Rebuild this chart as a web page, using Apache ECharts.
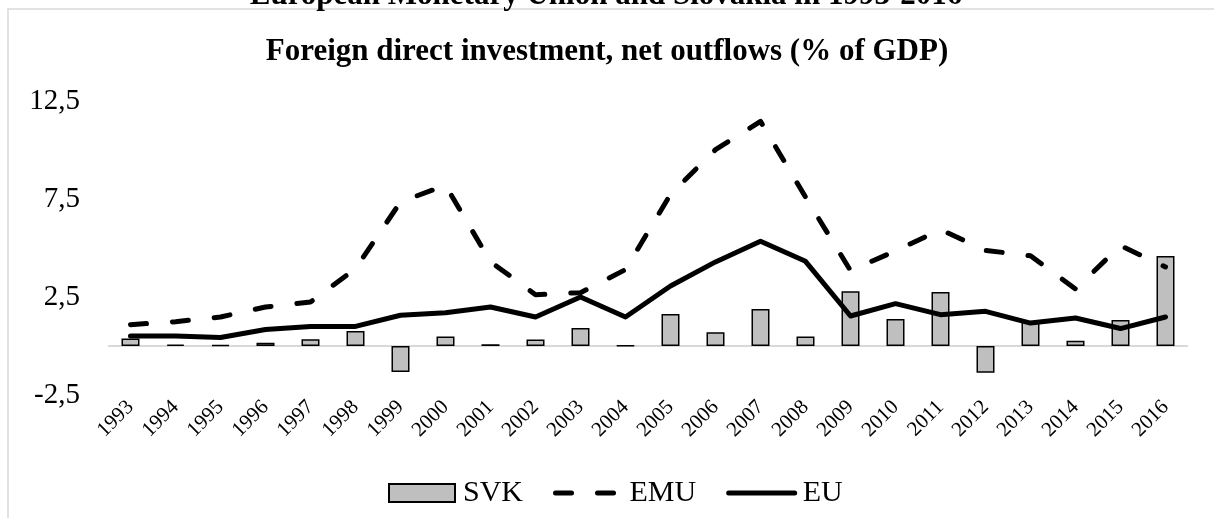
<!DOCTYPE html>
<html>
<head>
<meta charset="utf-8">
<script src="https://cdn.jsdelivr.net/npm/echarts@6/dist/echarts.min.js"></script>
<style>
  html, body { margin: 0; padding: 0; background: #fff; }
  #chart { width: 1214px; height: 518px; }
</style>
</head>
<body>
<div id="chart"></div>
<script>
// Foreign direct investment, net outflows (% of GDP), 1993-2016
const years = ['1993','1994','1995','1996','1997','1998','1999','2000','2001','2002','2003','2004',
               '2005','2006','2007','2008','2009','2010','2011','2012','2013','2014','2015','2016'];
const svk = [0.38, 0.07, 0.05, 0.17, 0.34, 0.77, -1.33, 0.49, 0.09, 0.33, 0.92, 0.02,
             1.63, 0.70, 1.89, 0.49, 2.79, 1.38, 2.76, -1.36, 1.28, 0.27, 1.33, 4.59];
const emu = [1.09, 1.24, 1.48, 1.99, 2.24, 3.95, 7.35, 8.20, 4.30, 2.62, 2.72, 3.90,
             7.74, 10.02, 11.46, 7.60, 3.85, 4.85, 5.94, 4.88, 4.60, 2.91, 5.12, 4.03];
const eu = [0.51, 0.51, 0.43, 0.84, 1.00, 1.00, 1.57, 1.70, 1.99, 1.48, 2.50, 1.48,
            3.06, 4.29, 5.34, 4.32, 1.53, 2.16, 1.60, 1.77, 1.17, 1.43, 0.89, 1.48];
const yMin = -2.5, yMax = 12.5, yStep = 5;

const serif = "'Liberation Serif', 'Times New Roman', serif";
const chart = echarts.init(document.getElementById('chart'), null, { renderer: 'canvas' });

chart.setOption({
  backgroundColor: '#ffffff',
  animation: false,
  title: {
    text: 'Foreign direct investment, net outflows (% of GDP)',
    left: 'center',
    top: 31,
    textStyle: { fontFamily: serif, fontSize: 31, fontWeight: 'bold', color: '#000' }
  },
  graphic: [
    {
      type: 'rect',
      shape: { x: 8, y: 9, width: 1240, height: 540 },
      style: { fill: 'none', stroke: '#d9d9d9', lineWidth: 1.5 },
      silent: true
    },
    {
      type: 'text',
      x: 606, y: -4,
      style: {
        text: 'European Monetary Union and Slovakia in 1993-2016',
        fontFamily: serif, fontSize: 31, fontWeight: 'bold', fill: '#000',
        textAlign: 'center', textVerticalAlign: 'middle'
      },
      silent: true
    }
  ],
  legend: {
    left: 383,
    top: 473,
    itemWidth: 66,
    itemHeight: 18,
    itemGap: 30,
    lineStyle: { width: 5, cap: 'round' },
    textStyle: { fontFamily: serif, fontSize: 30, color: '#000', padding: [0, 0, 0, 3] },
    data: [
      { name: 'SVK', icon: 'rect' },
      { name: 'EMU', itemStyle: { opacity: 0 } },
      { name: 'EU', itemStyle: { opacity: 0 } }
    ]
  },
  grid: { left: 108, right: 26, top: 101, bottom: 123, containLabel: false },
  xAxis: {
    type: 'category',
    data: years,
    boundaryGap: true,
    axisLine: { show: false, onZero: false },
    axisTick: { show: false },
    axisLabel: {
      rotate: 45,
      margin: 9,
      interval: 0,
      fontFamily: serif,
      fontSize: 21,
      color: '#000'
    },
    splitLine: { show: false }
  },
  yAxis: {
    type: 'value',
    min: yMin,
    max: yMax,
    interval: yStep,
    axisLine: { show: false },
    axisTick: { show: false },
    splitLine: { show: false },
    axisLabel: {
      margin: 28,
      fontFamily: serif,
      fontSize: 29,
      color: '#000',
      formatter: v => String(v).replace('.', ',')
    }
  },
  series: [
    {
      name: 'SVK',
      type: 'bar',
      data: svk,
      barWidth: 18,
      itemStyle: { color: '#bfbfbf', borderColor: '#000', borderWidth: 1.5 },
      z: 2,
      markLine: {
        silent: true,
        symbol: 'none',
        label: { show: false },
        lineStyle: { color: '#d9d9d9', width: 2, type: 'solid' },
        data: [{ yAxis: 0 }],
        z: 1
      }
    },
    {
      name: 'EMU',
      type: 'line',
      data: emu,
      symbol: 'none',
      lineStyle: { color: '#000', width: 5, type: [16, 26], cap: 'round', join: 'round' },
      itemStyle: { color: '#000' },
      z: 3
    },
    {
      name: 'EU',
      type: 'line',
      data: eu,
      symbol: 'none',
      lineStyle: { color: '#000', width: 5, type: 'solid', cap: 'round', join: 'round' },
      itemStyle: { color: '#000' },
      z: 4
    }
  ]
});
</script>
</body>
</html>
